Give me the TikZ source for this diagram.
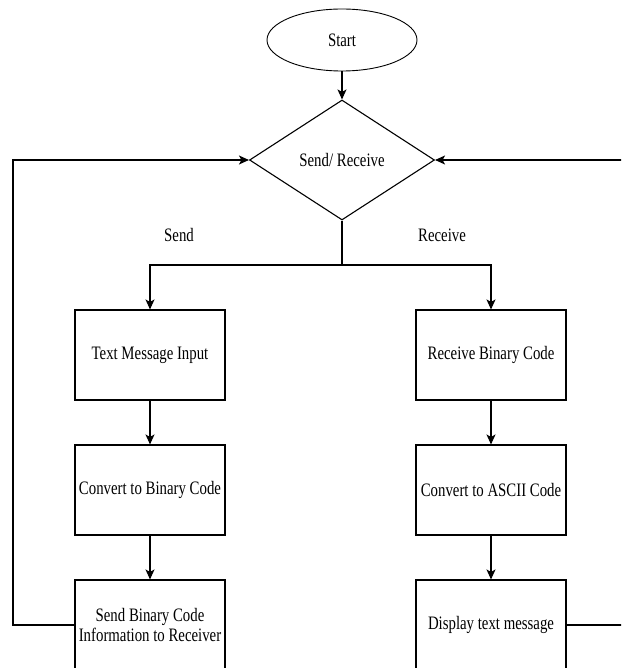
\documentclass[tikz,border=0pt]{standalone}
\usepackage{fontspec}
\setmainfont{Liberation Serif}[FakeStretch=0.78]
\usetikzlibrary{shapes.geometric, arrows.meta, positioning}

\begin{document}
\begin{tikzpicture}[x=1pt, y=-1pt, >={Stealth[length=10pt, width=9pt, inset=2.5pt]},
  every node/.style={font=\fontsize{19}{20}\selectfont},
  stepbox/.style={rectangle, draw=black, line width=1.1pt, minimum width=150pt, minimum height=90pt, inner sep=0pt, align=center},
  flowline/.style={line width=1.1pt, ->}]
\useasboundingbox (0,0) rectangle (621,668);
\clip (0,0) rectangle (621,668);
\node[ellipse, draw=black, line width=0.9pt, minimum width=150pt, minimum height=62pt, inner sep=0pt] at (342, 40) (start) {Start};
\node[diamond, draw=black, line width=1.1pt, minimum width=185pt, minimum height=120pt, inner sep=0pt] at (342, 160) (choice) {Send/ Receive};
\draw[flowline] (start) -- (choice);
\node at (179, 235) (lsend) {Send};
\node at (442, 235) (lrecv) {Receive};
\coordinate (split) at (342, 265);
% send side
\node[stepbox] at (150, 355) (snd1) {Text Message Input};
\node[stepbox] at (150, 490) (snd2) {Convert to Binary Code};
\node[stepbox] at (150, 625) (snd3) {Send Binary Code\\Information to Receiver};
\draw[flowline] (choice.south) -- (split) -| (snd1.north);
\draw[flowline] (snd1) -- (snd2);
\draw[flowline] (snd2) -- (snd3);
% receive side
\node[stepbox] at (491, 355) (rcv1) {Receive Binary Code};
\node[stepbox] at (491, 490) (rcv2) {Convert to ASCII Code};
\node[stepbox] at (491, 625) (rcv3) {Display text message};
\draw[flowline] (split) -| (rcv1.north);
\draw[flowline] (rcv1) -- (rcv2);
\draw[flowline] (rcv2) -- (rcv3);
% loops back to the decision
\coordinate (lback) at (13, 625);
\coordinate (rback) at (626, 625);
\draw[flowline] (snd3.west) -- (lback) |- (choice.west);
\draw[flowline] (rcv3.east) -- (rback) |- (choice.east);
\end{tikzpicture}
\end{document}
